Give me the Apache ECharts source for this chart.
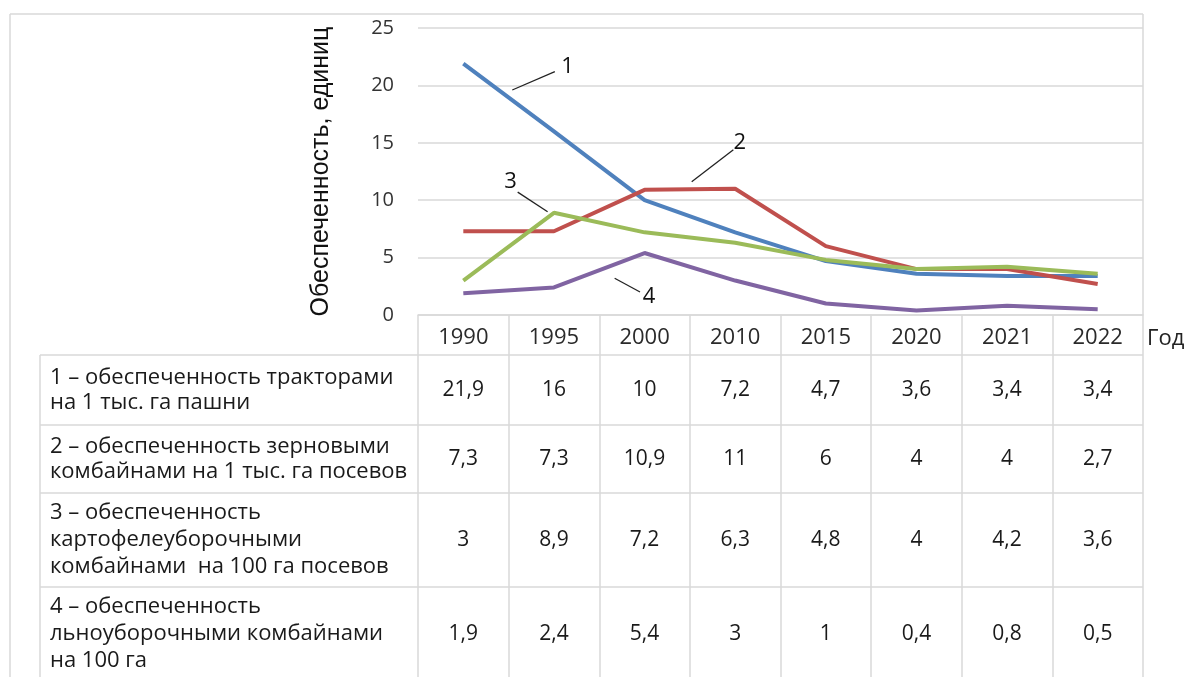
<!DOCTYPE html>
<html>
<head>
<meta charset="utf-8">
<script src="https://cdn.jsdelivr.net/npm/echarts@6/dist/echarts.min.js"></script>
<style>
  html, body { margin: 0; padding: 0; background: #fff; }
  #chart { width: 1188px; height: 677px; }
</style>
</head>
<body>
<div id="chart"></div>
<script>
// years on the x axis
const years = ['1990', '1995', '2000', '2010', '2015', '2020', '2021', '2022'];

// 1 – tractors per 1000 ha of arable land
const tractors = [21.9, 16, 10, 7.2, 4.7, 3.6, 3.4, 3.4];
// 2 – grain harvesters per 1000 ha of crops
const grainCombines = [7.3, 7.3, 10.9, 11, 6, 4, 4, 2.7];
// 3 – potato harvesters per 100 ha of crops
const potatoCombines = [3, 8.9, 7.2, 6.3, 4.8, 4, 4.2, 3.6];
// 4 – flax harvesters per 100 ha
const flaxCombines = [1.9, 2.4, 5.4, 3, 1, 0.4, 0.8, 0.5];

const yTicks = [0, 5, 10, 15, 20, 25];

const rowLabels = [
  ['1 – обеспеченность тракторами', 'на 1 тыс. га пашни'],
  ['2 – обеспеченность зерновыми', 'комбайнами на 1 тыс. га посевов'],
  ['3 – обеспеченность', 'картофелеуборочными', 'комбайнами  на 100 га посевов'],
  ['4 – обеспеченность', 'льноуборочными комбайнами', 'на 100 га']
];

// numbered callouts: [text, line start (idx, value), line end, text pos]
const callouts = [
  ['1', [0.54, 19.6], [1.01, 21.2], [1.15, 21.6]],
  ['2', [2.52, 11.6], [2.98, 14.4], [3.05, 15.0]],
  ['3', [0.93, 9.0], [0.6, 10.7], [0.52, 11.6]],
  ['4', [1.67, 3.2], [1.95, 2.0], [2.05, 1.6]]
];

const colors = ['#4f81bd', '#c0504d', '#9bbb59', '#8064a2'];
const allSeries = [tractors, grainCombines, potatoCombines, flaxCombines];

const font = '"Open Sans", "Noto Sans", sans-serif';
const lineGrey = '#d9d9d9';

const chart = echarts.init(document.getElementById('chart'));

const option = {
  animation: false,
  backgroundColor: '#fff',
  grid: { left: 418, right: 45, top: 28, bottom: 362, containLabel: false },
  xAxis: {
    type: 'category',
    data: years,
    boundaryGap: true,
    axisLine: { show: true, lineStyle: { color: lineGrey, width: 1.5 } },
    axisTick: { show: true, length: 362, lineStyle: { color: lineGrey, width: 1.5 } },
    axisLabel: { fontSize: 22, color: '#2a2a2a', fontFamily: font, margin: 12 },
    splitLine: { show: false }
  },
  yAxis: {
    type: 'value',
    min: yTicks[0],
    max: yTicks[yTicks.length - 1],
    interval: 5,
    name: 'Обеспеченность, единиц',
    nameLocation: 'middle',
    nameRotate: 90,
    nameGap: 84,
    nameTextStyle: { fontSize: 25, color: '#111', fontFamily: '"Liberation Sans", Arial, sans-serif' },
    axisLine: { show: false },
    axisTick: { show: false },
    axisLabel: { fontSize: 20, color: '#333', fontFamily: font, margin: 24 },
    splitLine: { lineStyle: { color: lineGrey, width: 1.5 } }
  },
  series: allSeries.map((d, i) => ({
    type: 'line',
    data: d,
    symbol: 'none',
    silent: true,
    lineStyle: { color: colors[i], width: 4 },
    z: 3
  }))
};

chart.setOption(option);

// table + frame + callouts, placed through the axes
const p0 = chart.convertToPixel({ gridIndex: 0 }, [0, 0]);
const p1 = chart.convertToPixel({ gridIndex: 0 }, [1, 25]);
const step = p1[0] - p0[0];
const unit = (p0[1] - p1[1]) / 25;
// category positions may be fractional here, so interpolate along the axis
const toPx = (idx, val) => [p0[0] + idx * step, p0[1] - val * unit];
const colX = years.map((_, i) => toPx(i, 0)[0]);
const plotRight = toPx(years.length - 0.5, 0)[0];
const zeroY = p0[1];
const topY = p1[1];

const rowLines = [355, 425, 493, 587, 681];
const tableLeft = 40;

const g = [];
const gl = (x1, y1, x2, y2) => g.push({ type: 'line', shape: { x1, y1, x2, y2 }, style: { stroke: lineGrey, lineWidth: 1.5 }, silent: true });
// outer frame
gl(10, topY - 14, plotRight, topY - 14);
gl(10, topY - 14, 10, 677);
gl(plotRight, topY - 14, plotRight, zeroY);
// table lines
rowLines.slice(0, 4).forEach(y => gl(tableLeft, y, plotRight, y));
gl(tableLeft, rowLines[0], tableLeft, 677);

// "Год"
g.push({ type: 'text', x: plotRight + 4, y: zeroY + 24, style: { text: 'Год', font: '22px ' + font, fill: '#222', verticalAlign: 'middle', align: 'left' }, silent: true });

// row labels + values
rowLabels.forEach((lines, r) => {
  const cy = (rowLines[r] + rowLines[r + 1]) / 2;
  g.push({
    type: 'text', x: 50, y: cy,
    style: { text: lines.join('\n'), font: '22px ' + font, lineHeight: lines.length > 2 ? 27 : 25, fill: '#1a1a1a', verticalAlign: 'middle', align: 'left' },
    silent: true
  });
  allSeries[r].forEach((v, i) => {
    g.push({
      type: 'text', x: colX[i], y: cy,
      style: { text: String(v).replace('.', ','), font: '21px ' + font, fill: '#1a1a1a', verticalAlign: 'middle', align: 'center' },
      silent: true
    });
  });
});

// callouts
callouts.forEach(([t, a, b, p]) => {
  const pa = toPx(a[0], a[1]), pb = toPx(b[0], b[1]), pp = toPx(p[0], p[1]);
  g.push({ type: 'line', shape: { x1: pa[0], y1: pa[1], x2: pb[0], y2: pb[1] }, style: { stroke: '#222', lineWidth: 1.3 }, silent: true, z: 10 });
  g.push({ type: 'text', x: pp[0], y: pp[1], style: { text: t, font: '22px ' + font, fill: '#111', align: 'center', verticalAlign: 'middle' }, silent: true, z: 10 });
});

chart.setOption({ graphic: g });
window.addEventListener('resize', () => chart.resize());
</script>
</body>
</html>
